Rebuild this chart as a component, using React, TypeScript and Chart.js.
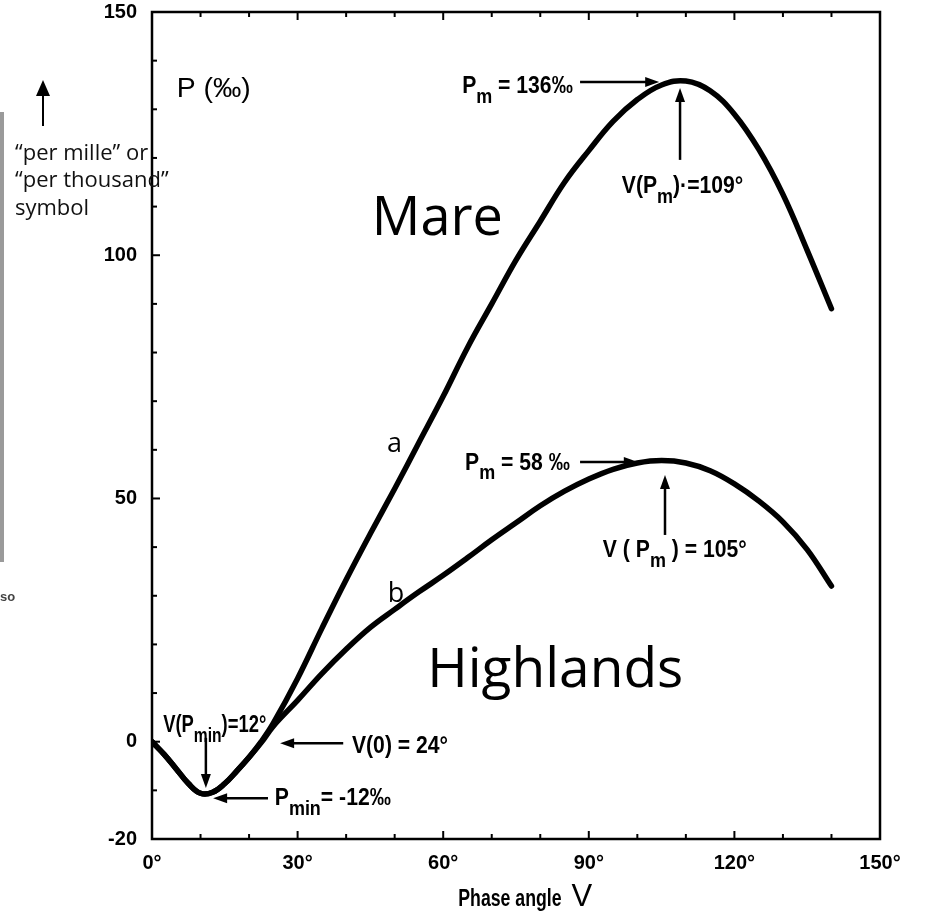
import React, { useEffect, useRef } from 'react';
import { Chart, registerables } from 'chart.js';

Chart.register(...registerables);

// Phase angle V (degrees)
const phaseAngles = [0, 2.5, 5, 7.5, 10, 12.5, 15, 17.5, 20, 22.5, 25, 30, 35, 40, 45, 50, 55, 60, 65, 70, 75, 80, 85, 90, 95, 100, 105, 110, 115, 120, 125, 130, 135, 140];
// Curve a (Mare), P in per mille
const mareP = [0, -2.6, -5.6, -8.6, -10.6, -10.4, -8.6, -6, -3.2, 0, 3.8, 13, 23.3, 33.3, 42.8, 52, 61.5, 71, 81, 90, 99, 107, 115, 121.5, 127.5, 132, 135, 135.8, 133.8, 129, 121.8, 112.5, 101, 89];
// Curve b (Highlands), P in per mille
const highlandsP = [0, -2.6, -5.6, -8.6, -10.6, -10.4, -8.6, -6, -3.2, -0.2, 3.2, 8.5, 14, 19, 23.5, 27.2, 30.8, 34.2, 37.8, 41.5, 45, 48.5, 51.5, 54, 56, 57.3, 57.8, 57.3, 55.7, 53, 49.5, 45.2, 39.5, 32];

const xTickLabels = [0, 30, 60, 90, 120, 150];
const yTickLabels = [150, 100, 50, 0, -20];

const SANS = '"Liberation Sans", Arial, sans-serif';
const OPEN = '"Open Sans", "Noto Sans", sans-serif';

type Part = [string, boolean?];

// draws horizontally condensed text, returns drawn width
function txt(ctx: CanvasRenderingContext2D, s: string, x: number, y: number, font: string, sx = 1) {
  ctx.save();
  ctx.font = font;
  ctx.translate(x, y);
  ctx.scale(sx, 1);
  ctx.fillText(s, 0, 0);
  const w = ctx.measureText(s).width * sx;
  ctx.restore();
  return w;
}

function drawRich(ctx: CanvasRenderingContext2D, x: number, y: number, parts: Part[], size: number, sx = 0.92) {
  let cx = x;
  for (const [t, sub] of parts) {
    const s = sub ? size * 0.85 : size;
    cx += txt(ctx, t, cx, sub ? y + size * 0.42 : y, `bold ${s}px ${SANS}`, sx);
  }
}

function drawArrow(ctx: CanvasRenderingContext2D, x1: number, y1: number, x2: number, y2: number, hl = 14, hw = 5) {
  const ang = Math.atan2(y2 - y1, x2 - x1);
  const c = Math.cos(ang), s = Math.sin(ang);
  ctx.beginPath();
  ctx.moveTo(x1, y1);
  ctx.lineTo(x2 - c * hl * 0.8, y2 - s * hl * 0.8);
  ctx.stroke();
  ctx.beginPath();
  ctx.moveTo(x2, y2);
  ctx.lineTo(x2 - hl * c + hw * s, y2 - hl * s - hw * c);
  ctx.lineTo(x2 - hl * c - hw * s, y2 - hl * s + hw * c);
  ctx.closePath();
  ctx.fill();
}

const framePlugin = {
  id: 'frameAndNotes',
  afterDraw(chart: any) {
    const ctx: CanvasRenderingContext2D = chart.ctx;
    const { left, right, top, bottom } = chart.chartArea;
    const xs = chart.scales.x;
    const ys = chart.scales.y;
    const X = (v: number) => xs.getPixelForValue(v);
    const Y = (v: number) => ys.getPixelForValue(v);
    ctx.save();
    ctx.strokeStyle = '#000';
    ctx.fillStyle = '#000';
    ctx.lineCap = 'butt';

    // frame
    ctx.lineWidth = 2.5;
    ctx.strokeRect(left, top, right - left, bottom - top);

    // inward ticks
    ctx.lineWidth = 2;
    const seg = (a: number, b: number, c: number, d: number) => { ctx.beginPath(); ctx.moveTo(a, b); ctx.lineTo(c, d); ctx.stroke(); };
    for (let v = 10; v < 150; v += 10) {
      const px = X(v);
      const len = v % 30 === 0 ? 8 : 5;
      seg(px, bottom, px, bottom - len);
      seg(px, top, px, top + len);
    }
    for (let v = -10; v < 150; v += 10) {
      const py = Y(v);
      const len = v % 50 === 0 ? 8 : 5;
      seg(left, py, left + len, py);
    }

    ctx.textAlign = 'left';
    ctx.textBaseline = 'alphabetic';

    // axis title
    const tw = txt(ctx, 'Phase angle', X(63.1), bottom + 67, `bold 23px ${SANS}`, 0.77);
    txt(ctx, 'V', X(63.1) + tw + 10, bottom + 67, `normal 31px ${SANS}`, 1);

    // P (‰)
    txt(ctx, 'P (‰)', X(5.1), Y(132.5), `normal 27px ${SANS}`, 1.05);

    // annotations
    const AS = 23;
    ctx.lineWidth = 2.5;
    drawRich(ctx, X(63.9), Y(133.3), [['P'], ['m', true], [' = 136‰']], AS);
    drawArrow(ctx, X(88.2), Y(135.6), X(104.5), Y(135.6));
    drawArrow(ctx, X(108.8), Y(119.6), X(108.8), Y(134.4));
    drawRich(ctx, X(96.8), Y(112.8), [['V('], ['P'], ['m', true], [')·=109°']], AS);

    drawRich(ctx, X(64.5), Y(55.9), [['P'], ['m', true], [' = 58 ‰']], AS);
    drawArrow(ctx, X(88.2), Y(57.5), X(100.1), Y(57.5));
    drawArrow(ctx, X(105.7), Y(42.5), X(105.7), Y(54.8));
    drawRich(ctx, X(92.9), Y(38), [['V ( '], ['P'], ['m', true], [' ) = 105°']], AS);

    drawRich(ctx, X(2.3), Y(2.0), [['V('], ['P'], ['min', true], [')=12°']], AS, 0.8);
    drawArrow(ctx, X(11.1), Y(0.8), X(11.1), Y(-9.5));
    drawRich(ctx, X(41.2), Y(-2.3), [['V(0) = 24°']], AS);
    drawArrow(ctx, X(39.4), Y(-0.3), X(26.4), Y(-0.3));
    drawRich(ctx, X(25.3), Y(-13.1), [['P'], ['min', true], ['= -12‰']], AS);
    drawArrow(ctx, X(23.9), Y(-11.6), X(12.6), Y(-11.6));

    // curve labels
    txt(ctx, 'a', X(48.4), Y(59.6), `normal 27px ${OPEN}`);
    txt(ctx, 'b', X(48.6), Y(28.7), `normal 27px ${OPEN}`);
    txt(ctx, 'Mare', X(45.3), Y(104.1), `normal 54px ${OPEN}`);
    txt(ctx, 'Highlands', X(56.7), Y(11.2), `normal 55px ${OPEN}`);

    // side note (outside the plot frame)
    ctx.lineWidth = 2;
    drawArrow(ctx, 43, 126, 43, 80, 16, 7);
    ctx.fillStyle = '#111';
    txt(ctx, '“per mille” or', 15, 160, `normal 22px ${OPEN}`);
    txt(ctx, '“per thousand”', 15, 187, `normal 22px ${OPEN}`);
    txt(ctx, 'symbol', 15, 215, `normal 22px ${OPEN}`);

    // scan remnant at the left edge
    ctx.fillStyle = '#9a9a9a';
    ctx.fillRect(0, 112, 4, 450);
    ctx.fillStyle = '#444';
    txt(ctx, 'so', 0, 601, `bold 13px ${SANS}`);
    ctx.restore();
  },
};

export default function App() {
  const ref = useRef<HTMLCanvasElement>(null);
  useEffect(() => {
    if (!ref.current) return;
    const pts = (vals: number[]) => phaseAngles.map((x, i) => ({ x, y: vals[i] }));
    const lineStyle = { borderColor: '#000', borderWidth: 5.5, pointRadius: 0, fill: false, tension: 0.4, borderCapStyle: 'round', borderJoinStyle: 'round' };
    const chart = new Chart(ref.current, {
      type: 'line',
      data: {
        datasets: [
          { label: 'a (Mare)', data: pts(mareP), ...lineStyle },
          { label: 'b (Highlands)', data: pts(highlandsP), ...lineStyle },
        ],
      },
      options: {
        animation: false,
        responsive: false,
        devicePixelRatio: 1,
        layout: { padding: { left: 0, right: 46, top: 12, bottom: 0 } },
        plugins: { legend: { display: false }, tooltip: { enabled: false } },
        scales: {
          x: {
            type: 'linear',
            min: 0,
            max: 150,
            grid: { display: false, drawTicks: false },
            border: { display: false },
            ticks: {
              stepSize: 30,
              autoSkip: false,
              maxRotation: 0,
              padding: 12,
              color: '#000',
              font: { family: SANS, size: 20, weight: 'bold' },
              callback: (v: any) => (xTickLabels.includes(Number(v)) ? `${v}°` : ''),
            },
            afterFit: (s: any) => { s.height = 72; s.paddingLeft = 0; s.paddingRight = 0; },
          },
          y: {
            type: 'linear',
            min: -20,
            max: 150,
            grid: { display: false, drawTicks: false },
            border: { display: false },
            ticks: {
              stepSize: 10,
              autoSkip: false,
              padding: 15,
              color: '#000',
              font: { family: SANS, size: 20, weight: 'bold' },
              callback: (v: any) => (yTickLabels.includes(Number(v)) ? String(v) : ''),
            },
            afterFit: (s: any) => { s.width = 152; s.paddingTop = 0; s.paddingBottom = 0; },
          },
        },
      } as any,
      plugins: [framePlugin],
    });
    return () => chart.destroy();
  }, []);
  return (
    <div style={{ position: 'absolute', left: 0, top: 0, width: 926, height: 911, background: '#fff' }}>
      <canvas ref={ref} width={926} height={911} style={{ display: 'block' }} />
    </div>
  );
}
